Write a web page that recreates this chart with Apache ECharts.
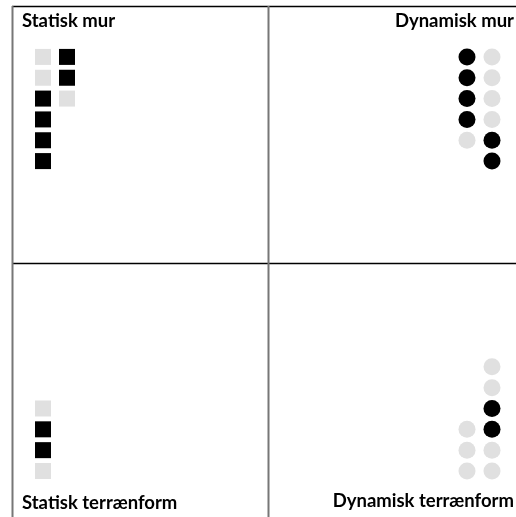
<!DOCTYPE html>
<html><head><meta charset="utf-8">
<script src="https://cdn.jsdelivr.net/npm/echarts@6/dist/echarts.min.js"></script>
<style>html,body{margin:0;padding:0;background:#fff}#c{width:516px;height:517px}</style>
</head><body><div id="c"></div>
<script>
// Panel titles
const titles = ["Statisk mur", "Dynamisk mur", "Statisk terrænform", "Dynamisk terrænform"];
// Each panel: list of columns; each column lists cell states (1 = black, 0 = grey)
// top panels: rows counted from top; bottom panels: rows counted from bottom
const statiskMur = [[0,0,1,1,1,1],[1,1,0]];
const dynamiskMur = [[1,1,1,1,0],[0,0,0,0,1,1]];
const statiskTerraen = [[0,1,1,0]];
const dynamiskTerraen = [[0,0,0],[0,0,1,1,0,0]];

const BLACK = '#000000', GREY = '#e0e0e0';
function toData(cols){
  const out=[];
  cols.forEach((col,ci)=>col.forEach((v,ri)=>out.push({value:[ci,ri],itemStyle:{color:v?BLACK:GREY,opacity:1}})));
  return out;
}
const grids = [
  {left:31, top:46.5, width:48, height:125},
  {left:454.5, top:46.5, width:50, height:125},
  {left:31, top:356.4, width:48, height:125},
  {left:454.5, top:356.4, width:50, height:125}
];
const panels = [statiskMur, dynamiskMur, statiskTerraen, dynamiskTerraen];
const symbols = ['rect','circle','rect','circle'];
const sizes = [16,17,16,17];
const inverse = [true,true,false,false];

const option = {
  animation:false,
  grid: grids,
  xAxis: grids.map((g,i)=>({type:'value',gridIndex:i,min:-0.5,max:1.5,show:false})),
  yAxis: grids.map((g,i)=>({type:'value',gridIndex:i,min:-0.5,max:5.5,inverse:inverse[i],show:false})),
  series: panels.map((p,i)=>({type:'scatter',xAxisIndex:i,yAxisIndex:i,symbol:symbols[i],symbolSize:sizes[i],itemStyle:{opacity:1},emphasis:{disabled:true},data:toData(p)})),
  title: [
    {text:titles[0], left:22, top:12},
    {text:titles[1], right:2, top:12},
    {text:titles[2], left:22, top:494},
    {text:titles[3], right:2, top:492}
  ].map(t=>Object.assign(t,{padding:0,textStyle:{fontFamily:'Lato',fontWeight:'bold',fontSize:18.5,color:'#000'}})),
  graphic: [
    {type:'line',shape:{x1:12,y1:6.5,x2:516,y2:6.5},style:{stroke:'#000',lineWidth:1.5}},
    {type:'line',shape:{x1:12,y1:263.5,x2:516,y2:263.5},style:{stroke:'#000',lineWidth:1.5}},
    {type:'line',shape:{x1:12.5,y1:6,x2:12.5,y2:517},style:{stroke:'#777',lineWidth:2}},
    {type:'line',shape:{x1:268.5,y1:6,x2:268.5,y2:517},style:{stroke:'#777',lineWidth:2}}
  ]
};
echarts.init(document.getElementById('c'),null,{renderer:'canvas'}).setOption(option);
</script></body></html>
